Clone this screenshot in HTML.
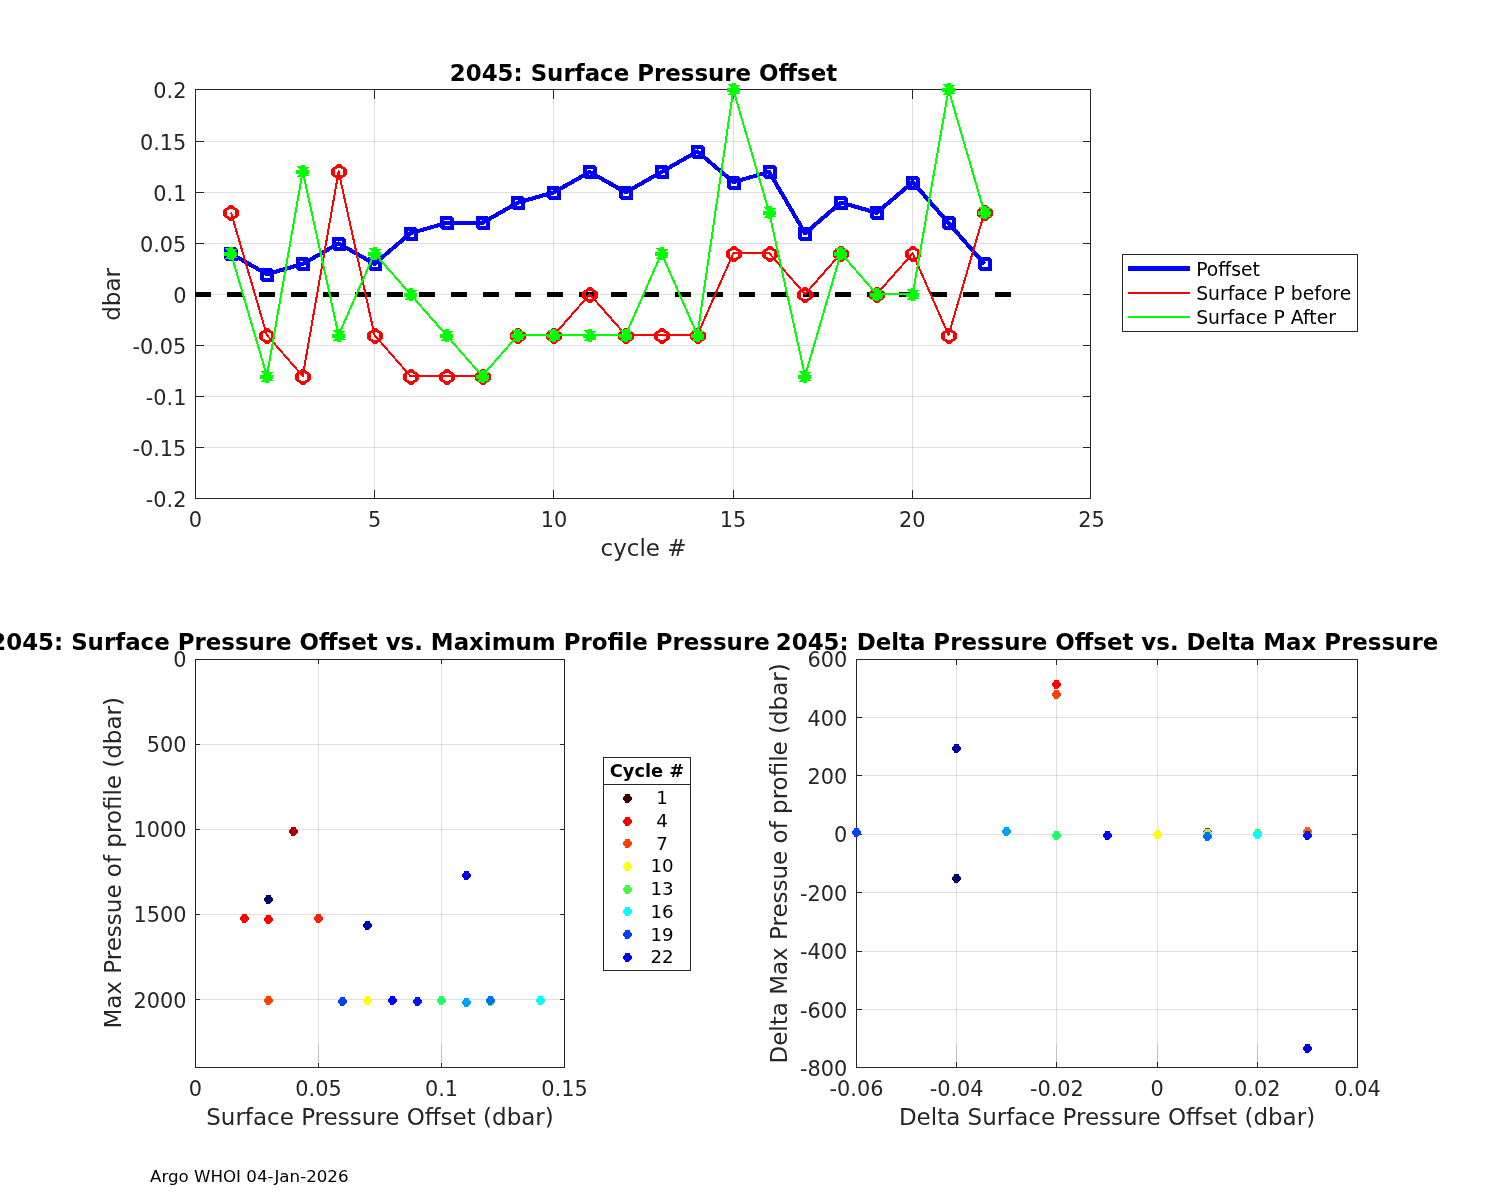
<!DOCTYPE html>
<html lang="en"><head><meta charset="utf-8"><title>2045: Surface Pressure Offset</title>
<style>html,body{margin:0;padding:0;background:#fff;}body{width:1500px;height:1200px;overflow:hidden;}svg{display:block;}text{font-family:"DejaVu Sans", "Liberation Sans", sans-serif;}</style>
</head><body>
<svg width="1500" height="1200" viewBox="0 0 1500 1200">
<rect x="0" y="0" width="1500" height="1200" fill="#ffffff"/>
<g shape-rendering="crispEdges">
<rect x="374" y="90" width="1" height="408" fill="#262626" fill-opacity="0.15"/>
<rect x="553" y="90" width="1" height="408" fill="#262626" fill-opacity="0.15"/>
<rect x="733" y="90" width="1" height="408" fill="#262626" fill-opacity="0.15"/>
<rect x="912" y="90" width="1" height="408" fill="#262626" fill-opacity="0.15"/>
<rect x="196" y="141" width="894" height="1" fill="#262626" fill-opacity="0.15"/>
<rect x="196" y="192" width="894" height="1" fill="#262626" fill-opacity="0.15"/>
<rect x="196" y="243" width="894" height="1" fill="#262626" fill-opacity="0.15"/>
<rect x="196" y="294" width="894" height="1" fill="#262626" fill-opacity="0.15"/>
<rect x="196" y="345" width="894" height="1" fill="#262626" fill-opacity="0.15"/>
<rect x="196" y="396" width="894" height="1" fill="#262626" fill-opacity="0.15"/>
<rect x="196" y="447" width="894" height="1" fill="#262626" fill-opacity="0.15"/>
<rect x="195" y="89" width="896" height="1" fill="#262626"/>
<rect x="195" y="498" width="896" height="1" fill="#262626"/>
<rect x="195" y="89" width="1" height="410" fill="#262626"/>
<rect x="1090" y="89" width="1" height="410" fill="#262626"/>
<rect x="374" y="490" width="1" height="8" fill="#262626"/>
<rect x="374" y="90" width="1" height="9" fill="#262626"/>
<rect x="553" y="490" width="1" height="8" fill="#262626"/>
<rect x="553" y="90" width="1" height="9" fill="#262626"/>
<rect x="733" y="490" width="1" height="8" fill="#262626"/>
<rect x="733" y="90" width="1" height="9" fill="#262626"/>
<rect x="912" y="490" width="1" height="8" fill="#262626"/>
<rect x="912" y="90" width="1" height="9" fill="#262626"/>
<rect x="196" y="141" width="8" height="1" fill="#262626"/>
<rect x="1083" y="141" width="7" height="1" fill="#262626"/>
<rect x="196" y="192" width="8" height="1" fill="#262626"/>
<rect x="1083" y="192" width="7" height="1" fill="#262626"/>
<rect x="196" y="243" width="8" height="1" fill="#262626"/>
<rect x="1083" y="243" width="7" height="1" fill="#262626"/>
<rect x="196" y="294" width="8" height="1" fill="#262626"/>
<rect x="1083" y="294" width="7" height="1" fill="#262626"/>
<rect x="196" y="345" width="8" height="1" fill="#262626"/>
<rect x="1083" y="345" width="7" height="1" fill="#262626"/>
<rect x="196" y="396" width="8" height="1" fill="#262626"/>
<rect x="1083" y="396" width="7" height="1" fill="#262626"/>
<rect x="196" y="447" width="8" height="1" fill="#262626"/>
<rect x="1083" y="447" width="7" height="1" fill="#262626"/>
</g>
<g shape-rendering="crispEdges" fill="none" stroke-linejoin="round">
<polyline points="230.97,253.7 266.85,274.15 302.73,263.93 338.61,243.48 374.49,263.93 410.37,233.25 446.25,223.03 482.13,223.03 518.01,202.58 553.89,192.35 589.77,171.9 625.65,192.35 661.53,171.9 697.41,151.45 733.29,182.12 769.17,171.9 805.05,233.25 840.93,202.58 876.81,212.8 912.69,182.12 948.57,223.03 984.45,263.93" stroke="#0000ff" stroke-width="4.1"/>
<path d="M224.9 246.95L235.4 246.95L238.05 249.6L238.05 260.1L237.1 261.05L226.6 261.05L223.95 258.4L223.95 247.9ZM227.9 250.9L234.1 250.9L234.1 257.1L227.9 257.1ZM260.9 267.95L271.4 267.95L274.05 270.6L274.05 281.1L273.1 282.05L262.6 282.05L259.95 279.4L259.95 268.9ZM263.9 271.9L270.1 271.9L270.1 278.1L263.9 278.1ZM296.9 256.95L307.4 256.95L310.05 259.6L310.05 270.1L309.1 271.05L298.6 271.05L295.95 268.4L295.95 257.9ZM299.9 260.9L306.1 260.9L306.1 267.1L299.9 267.1ZM332.9 236.95L343.4 236.95L346.05 239.6L346.05 250.1L345.1 251.05L334.6 251.05L331.95 248.4L331.95 237.9ZM335.9 240.9L342.1 240.9L342.1 247.1L335.9 247.1ZM368.9 256.95L379.4 256.95L382.05 259.6L382.05 270.1L381.1 271.05L370.6 271.05L367.95 268.4L367.95 257.9ZM371.9 260.9L378.1 260.9L378.1 267.1L371.9 267.1ZM404.9 226.95L415.4 226.95L418.05 229.6L418.05 240.1L417.1 241.05L406.6 241.05L403.95 238.4L403.95 227.9ZM407.9 230.9L414.1 230.9L414.1 237.1L407.9 237.1ZM440.9 215.95L451.4 215.95L454.05 218.6L454.05 229.1L453.1 230.05L442.6 230.05L439.95 227.4L439.95 216.9ZM443.9 219.9L450.1 219.9L450.1 226.1L443.9 226.1ZM476.9 215.95L487.4 215.95L490.05 218.6L490.05 229.1L489.1 230.05L478.6 230.05L475.95 227.4L475.95 216.9ZM479.9 219.9L486.1 219.9L486.1 226.1L479.9 226.1ZM511.9 195.95L522.4 195.95L525.05 198.6L525.05 209.1L524.1 210.05L513.6 210.05L510.95 207.4L510.95 196.9ZM514.9 199.9L521.1 199.9L521.1 206.1L514.9 206.1ZM547.9 185.95L558.4 185.95L561.05 188.6L561.05 199.1L560.1 200.05L549.6 200.05L546.95 197.4L546.95 186.9ZM550.9 189.9L557.1 189.9L557.1 196.1L550.9 196.1ZM583.9 164.95L594.4 164.95L597.05 167.6L597.05 178.1L596.1 179.05L585.6 179.05L582.95 176.4L582.95 165.9ZM586.9 168.9L593.1 168.9L593.1 175.1L586.9 175.1ZM619.9 185.95L630.4 185.95L633.05 188.6L633.05 199.1L632.1 200.05L621.6 200.05L618.95 197.4L618.95 186.9ZM622.9 189.9L629.1 189.9L629.1 196.1L622.9 196.1ZM655.9 164.95L666.4 164.95L669.05 167.6L669.05 178.1L668.1 179.05L657.6 179.05L654.95 176.4L654.95 165.9ZM658.9 168.9L665.1 168.9L665.1 175.1L658.9 175.1ZM691.9 144.95L702.4 144.95L705.05 147.6L705.05 158.1L704.1 159.05L693.6 159.05L690.95 156.4L690.95 145.9ZM694.9 148.9L701.1 148.9L701.1 155.1L694.9 155.1ZM727.9 175.95L738.4 175.95L741.05 178.6L741.05 189.1L740.1 190.05L729.6 190.05L726.95 187.4L726.95 176.9ZM730.9 179.9L737.1 179.9L737.1 186.1L730.9 186.1ZM763.9 164.95L774.4 164.95L777.05 167.6L777.05 178.1L776.1 179.05L765.6 179.05L762.95 176.4L762.95 165.9ZM766.9 168.9L773.1 168.9L773.1 175.1L766.9 175.1ZM798.9 226.95L809.4 226.95L812.05 229.6L812.05 240.1L811.1 241.05L800.6 241.05L797.95 238.4L797.95 227.9ZM801.9 230.9L808.1 230.9L808.1 237.1L801.9 237.1ZM834.9 195.95L845.4 195.95L848.05 198.6L848.05 209.1L847.1 210.05L836.6 210.05L833.95 207.4L833.95 196.9ZM837.9 199.9L844.1 199.9L844.1 206.1L837.9 206.1ZM870.9 205.95L881.4 205.95L884.05 208.6L884.05 219.1L883.1 220.05L872.6 220.05L869.95 217.4L869.95 206.9ZM873.9 209.9L880.1 209.9L880.1 216.1L873.9 216.1ZM906.9 175.95L917.4 175.95L920.05 178.6L920.05 189.1L919.1 190.05L908.6 190.05L905.95 187.4L905.95 176.9ZM909.9 179.9L916.1 179.9L916.1 186.1L909.9 186.1ZM942.9 215.95L953.4 215.95L956.05 218.6L956.05 229.1L955.1 230.05L944.6 230.05L941.95 227.4L941.95 216.9ZM945.9 219.9L952.1 219.9L952.1 226.1L945.9 226.1ZM978.9 256.95L989.4 256.95L992.05 259.6L992.05 270.1L991.1 271.05L980.6 271.05L977.95 268.4L977.95 257.9ZM981.9 260.9L988.1 260.9L988.1 267.1L981.9 267.1Z" fill="#0000ff" fill-rule="evenodd" stroke="none"/>
<line x1="195" y1="294.5" x2="1019.82" y2="294.5" stroke="#000000" stroke-width="5" stroke-dasharray="16 16"/>
<polyline points="230.97,212.4 266.85,335.1 302.73,376 338.61,171.5 374.49,335.1 410.37,376 446.25,376 482.13,376 518.01,335.1 553.89,335.1 589.77,294.2 625.65,335.1 661.53,335.1 697.41,335.1 733.29,253.3 769.17,253.3 805.05,294.2 840.93,253.3 876.81,294.2 912.69,253.3 948.57,335.1 984.45,212.4" stroke="#ff0000" stroke-width="2"/>
<path d="M232.6 204.85L235.3 207.7L238 208.8L239.15 211.4L239.15 214.6L238 217.2L235.3 218.3L232.6 221.15L229.4 221.15L226.7 218.3L224 217.2L222.85 214.6L222.85 211.4L224 208.8L226.7 207.7L229.4 204.85ZM232.5 208.95L234.2 210L235.05 211.1L235.05 214.9L234.2 216L232.5 217.05L229.5 217.05L227.8 216L226.95 214.9L226.95 211.1L227.8 210L229.5 208.95ZM268.6 327.85L271.3 330.7L274 331.8L275.15 334.4L275.15 337.6L274 340.2L271.3 341.3L268.6 344.15L265.4 344.15L262.7 341.3L260 340.2L258.85 337.6L258.85 334.4L260 331.8L262.7 330.7L265.4 327.85ZM268.5 331.95L270.2 333L271.05 334.1L271.05 337.9L270.2 339L268.5 340.05L265.5 340.05L263.8 339L262.95 337.9L262.95 334.1L263.8 333L265.5 331.95ZM304.6 368.85L307.3 371.7L310 372.8L311.15 375.4L311.15 378.6L310 381.2L307.3 382.3L304.6 385.15L301.4 385.15L298.7 382.3L296 381.2L294.85 378.6L294.85 375.4L296 372.8L298.7 371.7L301.4 368.85ZM304.5 372.95L306.2 374L307.05 375.1L307.05 378.9L306.2 380L304.5 381.05L301.5 381.05L299.8 380L298.95 378.9L298.95 375.1L299.8 374L301.5 372.95ZM340.6 163.85L343.3 166.7L346 167.8L347.15 170.4L347.15 173.6L346 176.2L343.3 177.3L340.6 180.15L337.4 180.15L334.7 177.3L332 176.2L330.85 173.6L330.85 170.4L332 167.8L334.7 166.7L337.4 163.85ZM340.5 167.95L342.2 169L343.05 170.1L343.05 173.9L342.2 175L340.5 176.05L337.5 176.05L335.8 175L334.95 173.9L334.95 170.1L335.8 169L337.5 167.95ZM376.6 327.85L379.3 330.7L382 331.8L383.15 334.4L383.15 337.6L382 340.2L379.3 341.3L376.6 344.15L373.4 344.15L370.7 341.3L368 340.2L366.85 337.6L366.85 334.4L368 331.8L370.7 330.7L373.4 327.85ZM376.5 331.95L378.2 333L379.05 334.1L379.05 337.9L378.2 339L376.5 340.05L373.5 340.05L371.8 339L370.95 337.9L370.95 334.1L371.8 333L373.5 331.95ZM412.6 368.85L415.3 371.7L418 372.8L419.15 375.4L419.15 378.6L418 381.2L415.3 382.3L412.6 385.15L409.4 385.15L406.7 382.3L404 381.2L402.85 378.6L402.85 375.4L404 372.8L406.7 371.7L409.4 368.85ZM412.5 372.95L414.2 374L415.05 375.1L415.05 378.9L414.2 380L412.5 381.05L409.5 381.05L407.8 380L406.95 378.9L406.95 375.1L407.8 374L409.5 372.95ZM448.6 368.85L451.3 371.7L454 372.8L455.15 375.4L455.15 378.6L454 381.2L451.3 382.3L448.6 385.15L445.4 385.15L442.7 382.3L440 381.2L438.85 378.6L438.85 375.4L440 372.8L442.7 371.7L445.4 368.85ZM448.5 372.95L450.2 374L451.05 375.1L451.05 378.9L450.2 380L448.5 381.05L445.5 381.05L443.8 380L442.95 378.9L442.95 375.1L443.8 374L445.5 372.95ZM484.6 368.85L487.3 371.7L490 372.8L491.15 375.4L491.15 378.6L490 381.2L487.3 382.3L484.6 385.15L481.4 385.15L478.7 382.3L476 381.2L474.85 378.6L474.85 375.4L476 372.8L478.7 371.7L481.4 368.85ZM484.5 372.95L486.2 374L487.05 375.1L487.05 378.9L486.2 380L484.5 381.05L481.5 381.05L479.8 380L478.95 378.9L478.95 375.1L479.8 374L481.5 372.95ZM519.6 327.85L522.3 330.7L525 331.8L526.15 334.4L526.15 337.6L525 340.2L522.3 341.3L519.6 344.15L516.4 344.15L513.7 341.3L511 340.2L509.85 337.6L509.85 334.4L511 331.8L513.7 330.7L516.4 327.85ZM519.5 331.95L521.2 333L522.05 334.1L522.05 337.9L521.2 339L519.5 340.05L516.5 340.05L514.8 339L513.95 337.9L513.95 334.1L514.8 333L516.5 331.95ZM555.6 327.85L558.3 330.7L561 331.8L562.15 334.4L562.15 337.6L561 340.2L558.3 341.3L555.6 344.15L552.4 344.15L549.7 341.3L547 340.2L545.85 337.6L545.85 334.4L547 331.8L549.7 330.7L552.4 327.85ZM555.5 331.95L557.2 333L558.05 334.1L558.05 337.9L557.2 339L555.5 340.05L552.5 340.05L550.8 339L549.95 337.9L549.95 334.1L550.8 333L552.5 331.95ZM591.6 286.85L594.3 289.7L597 290.8L598.15 293.4L598.15 296.6L597 299.2L594.3 300.3L591.6 303.15L588.4 303.15L585.7 300.3L583 299.2L581.85 296.6L581.85 293.4L583 290.8L585.7 289.7L588.4 286.85ZM591.5 290.95L593.2 292L594.05 293.1L594.05 296.9L593.2 298L591.5 299.05L588.5 299.05L586.8 298L585.95 296.9L585.95 293.1L586.8 292L588.5 290.95ZM627.6 327.85L630.3 330.7L633 331.8L634.15 334.4L634.15 337.6L633 340.2L630.3 341.3L627.6 344.15L624.4 344.15L621.7 341.3L619 340.2L617.85 337.6L617.85 334.4L619 331.8L621.7 330.7L624.4 327.85ZM627.5 331.95L629.2 333L630.05 334.1L630.05 337.9L629.2 339L627.5 340.05L624.5 340.05L622.8 339L621.95 337.9L621.95 334.1L622.8 333L624.5 331.95ZM663.6 327.85L666.3 330.7L669 331.8L670.15 334.4L670.15 337.6L669 340.2L666.3 341.3L663.6 344.15L660.4 344.15L657.7 341.3L655 340.2L653.85 337.6L653.85 334.4L655 331.8L657.7 330.7L660.4 327.85ZM663.5 331.95L665.2 333L666.05 334.1L666.05 337.9L665.2 339L663.5 340.05L660.5 340.05L658.8 339L657.95 337.9L657.95 334.1L658.8 333L660.5 331.95ZM699.6 327.85L702.3 330.7L705 331.8L706.15 334.4L706.15 337.6L705 340.2L702.3 341.3L699.6 344.15L696.4 344.15L693.7 341.3L691 340.2L689.85 337.6L689.85 334.4L691 331.8L693.7 330.7L696.4 327.85ZM699.5 331.95L701.2 333L702.05 334.1L702.05 337.9L701.2 339L699.5 340.05L696.5 340.05L694.8 339L693.95 337.9L693.95 334.1L694.8 333L696.5 331.95ZM735.6 245.85L738.3 248.7L741 249.8L742.15 252.4L742.15 255.6L741 258.2L738.3 259.3L735.6 262.15L732.4 262.15L729.7 259.3L727 258.2L725.85 255.6L725.85 252.4L727 249.8L729.7 248.7L732.4 245.85ZM735.5 249.95L737.2 251L738.05 252.1L738.05 255.9L737.2 257L735.5 258.05L732.5 258.05L730.8 257L729.95 255.9L729.95 252.1L730.8 251L732.5 249.95ZM771.6 245.85L774.3 248.7L777 249.8L778.15 252.4L778.15 255.6L777 258.2L774.3 259.3L771.6 262.15L768.4 262.15L765.7 259.3L763 258.2L761.85 255.6L761.85 252.4L763 249.8L765.7 248.7L768.4 245.85ZM771.5 249.95L773.2 251L774.05 252.1L774.05 255.9L773.2 257L771.5 258.05L768.5 258.05L766.8 257L765.95 255.9L765.95 252.1L766.8 251L768.5 249.95ZM806.6 286.85L809.3 289.7L812 290.8L813.15 293.4L813.15 296.6L812 299.2L809.3 300.3L806.6 303.15L803.4 303.15L800.7 300.3L798 299.2L796.85 296.6L796.85 293.4L798 290.8L800.7 289.7L803.4 286.85ZM806.5 290.95L808.2 292L809.05 293.1L809.05 296.9L808.2 298L806.5 299.05L803.5 299.05L801.8 298L800.95 296.9L800.95 293.1L801.8 292L803.5 290.95ZM842.6 245.85L845.3 248.7L848 249.8L849.15 252.4L849.15 255.6L848 258.2L845.3 259.3L842.6 262.15L839.4 262.15L836.7 259.3L834 258.2L832.85 255.6L832.85 252.4L834 249.8L836.7 248.7L839.4 245.85ZM842.5 249.95L844.2 251L845.05 252.1L845.05 255.9L844.2 257L842.5 258.05L839.5 258.05L837.8 257L836.95 255.9L836.95 252.1L837.8 251L839.5 249.95ZM878.6 286.85L881.3 289.7L884 290.8L885.15 293.4L885.15 296.6L884 299.2L881.3 300.3L878.6 303.15L875.4 303.15L872.7 300.3L870 299.2L868.85 296.6L868.85 293.4L870 290.8L872.7 289.7L875.4 286.85ZM878.5 290.95L880.2 292L881.05 293.1L881.05 296.9L880.2 298L878.5 299.05L875.5 299.05L873.8 298L872.95 296.9L872.95 293.1L873.8 292L875.5 290.95ZM914.6 245.85L917.3 248.7L920 249.8L921.15 252.4L921.15 255.6L920 258.2L917.3 259.3L914.6 262.15L911.4 262.15L908.7 259.3L906 258.2L904.85 255.6L904.85 252.4L906 249.8L908.7 248.7L911.4 245.85ZM914.5 249.95L916.2 251L917.05 252.1L917.05 255.9L916.2 257L914.5 258.05L911.5 258.05L909.8 257L908.95 255.9L908.95 252.1L909.8 251L911.5 249.95ZM950.6 327.85L953.3 330.7L956 331.8L957.15 334.4L957.15 337.6L956 340.2L953.3 341.3L950.6 344.15L947.4 344.15L944.7 341.3L942 340.2L940.85 337.6L940.85 334.4L942 331.8L944.7 330.7L947.4 327.85ZM950.5 331.95L952.2 333L953.05 334.1L953.05 337.9L952.2 339L950.5 340.05L947.5 340.05L945.8 339L944.95 337.9L944.95 334.1L945.8 333L947.5 331.95ZM986.6 204.85L989.3 207.7L992 208.8L993.15 211.4L993.15 214.6L992 217.2L989.3 218.3L986.6 221.15L983.4 221.15L980.7 218.3L978 217.2L976.85 214.6L976.85 211.4L978 208.8L980.7 207.7L983.4 204.85ZM986.5 208.95L988.2 210L989.05 211.1L989.05 214.9L988.2 216L986.5 217.05L983.5 217.05L981.8 216L980.95 214.9L980.95 211.1L981.8 210L983.5 208.95Z" fill="#ff0000" fill-rule="evenodd" stroke="none"/>
<polyline points="230.97,253.3 266.85,376 302.73,171.5 338.61,335.1 374.49,253.3 410.37,294.2 446.25,335.1 482.13,376 518.01,335.1 553.89,335.1 589.77,335.1 625.65,335.1 661.53,253.3 697.41,335.1 733.29,89.7 769.17,212.4 805.05,376 840.93,253.3 876.81,294.2 912.69,294.2 948.57,89.7 984.45,212.4" stroke="#00ff00" stroke-width="2"/>
<path d="M224.1 252.05L236.9 252.05L236.9 255.95L224.1 255.95ZM229.05 247.05L232.95 247.05L232.95 259.95L229.05 259.95ZM224.9 248.1L228.6 247.95L230.5 254L228.1 252.1ZM234.8 252.1L230.5 254L232.4 248.7L237 249.2ZM224.9 258.5L227 255.9L230.5 254L228.6 258.9ZM232.4 258.35L230.5 254L235.5 255.9L237 257.6ZM260.1 375.05L272.9 375.05L272.9 378.95L260.1 378.95ZM265.05 370.05L268.95 370.05L268.95 382.95L265.05 382.95ZM260.9 371.1L264.6 370.95L266.5 377L264.1 375.1ZM270.8 375.1L266.5 377L268.4 371.7L273 372.2ZM260.9 381.5L263 378.9L266.5 377L264.6 381.9ZM268.4 381.35L266.5 377L271.5 378.9L273 380.6ZM296.1 170.05L308.9 170.05L308.9 173.95L296.1 173.95ZM301.05 165.05L304.95 165.05L304.95 177.95L301.05 177.95ZM296.9 166.1L300.6 165.95L302.5 172L300.1 170.1ZM306.8 170.1L302.5 172L304.4 166.7L309 167.2ZM296.9 176.5L299 173.9L302.5 172L300.6 176.9ZM304.4 176.35L302.5 172L307.5 173.9L309 175.6ZM332.1 334.05L344.9 334.05L344.9 337.95L332.1 337.95ZM337.05 329.05L340.95 329.05L340.95 341.95L337.05 341.95ZM332.9 330.1L336.6 329.95L338.5 336L336.1 334.1ZM342.8 334.1L338.5 336L340.4 330.7L345 331.2ZM332.9 340.5L335 337.9L338.5 336L336.6 340.9ZM340.4 340.35L338.5 336L343.5 337.9L345 339.6ZM368.1 252.05L380.9 252.05L380.9 255.95L368.1 255.95ZM373.05 247.05L376.95 247.05L376.95 259.95L373.05 259.95ZM368.9 248.1L372.6 247.95L374.5 254L372.1 252.1ZM378.8 252.1L374.5 254L376.4 248.7L381 249.2ZM368.9 258.5L371 255.9L374.5 254L372.6 258.9ZM376.4 258.35L374.5 254L379.5 255.9L381 257.6ZM404.1 293.05L416.9 293.05L416.9 296.95L404.1 296.95ZM409.05 288.05L412.95 288.05L412.95 300.95L409.05 300.95ZM404.9 289.1L408.6 288.95L410.5 295L408.1 293.1ZM414.8 293.1L410.5 295L412.4 289.7L417 290.2ZM404.9 299.5L407 296.9L410.5 295L408.6 299.9ZM412.4 299.35L410.5 295L415.5 296.9L417 298.6ZM440.1 334.05L452.9 334.05L452.9 337.95L440.1 337.95ZM445.05 329.05L448.95 329.05L448.95 341.95L445.05 341.95ZM440.9 330.1L444.6 329.95L446.5 336L444.1 334.1ZM450.8 334.1L446.5 336L448.4 330.7L453 331.2ZM440.9 340.5L443 337.9L446.5 336L444.6 340.9ZM448.4 340.35L446.5 336L451.5 337.9L453 339.6ZM476.1 375.05L488.9 375.05L488.9 378.95L476.1 378.95ZM481.05 370.05L484.95 370.05L484.95 382.95L481.05 382.95ZM476.9 371.1L480.6 370.95L482.5 377L480.1 375.1ZM486.8 375.1L482.5 377L484.4 371.7L489 372.2ZM476.9 381.5L479 378.9L482.5 377L480.6 381.9ZM484.4 381.35L482.5 377L487.5 378.9L489 380.6ZM511.1 334.05L523.9 334.05L523.9 337.95L511.1 337.95ZM516.05 329.05L519.95 329.05L519.95 341.95L516.05 341.95ZM511.9 330.1L515.6 329.95L517.5 336L515.1 334.1ZM521.8 334.1L517.5 336L519.4 330.7L524 331.2ZM511.9 340.5L514 337.9L517.5 336L515.6 340.9ZM519.4 340.35L517.5 336L522.5 337.9L524 339.6ZM547.1 334.05L559.9 334.05L559.9 337.95L547.1 337.95ZM552.05 329.05L555.95 329.05L555.95 341.95L552.05 341.95ZM547.9 330.1L551.6 329.95L553.5 336L551.1 334.1ZM557.8 334.1L553.5 336L555.4 330.7L560 331.2ZM547.9 340.5L550 337.9L553.5 336L551.6 340.9ZM555.4 340.35L553.5 336L558.5 337.9L560 339.6ZM583.1 334.05L595.9 334.05L595.9 337.95L583.1 337.95ZM588.05 329.05L591.95 329.05L591.95 341.95L588.05 341.95ZM583.9 330.1L587.6 329.95L589.5 336L587.1 334.1ZM593.8 334.1L589.5 336L591.4 330.7L596 331.2ZM583.9 340.5L586 337.9L589.5 336L587.6 340.9ZM591.4 340.35L589.5 336L594.5 337.9L596 339.6ZM619.1 334.05L631.9 334.05L631.9 337.95L619.1 337.95ZM624.05 329.05L627.95 329.05L627.95 341.95L624.05 341.95ZM619.9 330.1L623.6 329.95L625.5 336L623.1 334.1ZM629.8 334.1L625.5 336L627.4 330.7L632 331.2ZM619.9 340.5L622 337.9L625.5 336L623.6 340.9ZM627.4 340.35L625.5 336L630.5 337.9L632 339.6ZM655.1 252.05L667.9 252.05L667.9 255.95L655.1 255.95ZM660.05 247.05L663.95 247.05L663.95 259.95L660.05 259.95ZM655.9 248.1L659.6 247.95L661.5 254L659.1 252.1ZM665.8 252.1L661.5 254L663.4 248.7L668 249.2ZM655.9 258.5L658 255.9L661.5 254L659.6 258.9ZM663.4 258.35L661.5 254L666.5 255.9L668 257.6ZM691.1 334.05L703.9 334.05L703.9 337.95L691.1 337.95ZM696.05 329.05L699.95 329.05L699.95 341.95L696.05 341.95ZM691.9 330.1L695.6 329.95L697.5 336L695.1 334.1ZM701.8 334.1L697.5 336L699.4 330.7L704 331.2ZM691.9 340.5L694 337.9L697.5 336L695.6 340.9ZM699.4 340.35L697.5 336L702.5 337.9L704 339.6ZM727.1 88.05L739.9 88.05L739.9 91.95L727.1 91.95ZM732.05 83.05L735.95 83.05L735.95 95.95L732.05 95.95ZM727.9 84.1L731.6 83.95L733.5 90L731.1 88.1ZM737.8 88.1L733.5 90L735.4 84.7L740 85.2ZM727.9 94.5L730 91.9L733.5 90L731.6 94.9ZM735.4 94.35L733.5 90L738.5 91.9L740 93.6ZM763.1 211.05L775.9 211.05L775.9 214.95L763.1 214.95ZM768.05 206.05L771.95 206.05L771.95 218.95L768.05 218.95ZM763.9 207.1L767.6 206.95L769.5 213L767.1 211.1ZM773.8 211.1L769.5 213L771.4 207.7L776 208.2ZM763.9 217.5L766 214.9L769.5 213L767.6 217.9ZM771.4 217.35L769.5 213L774.5 214.9L776 216.6ZM798.1 375.05L810.9 375.05L810.9 378.95L798.1 378.95ZM803.05 370.05L806.95 370.05L806.95 382.95L803.05 382.95ZM798.9 371.1L802.6 370.95L804.5 377L802.1 375.1ZM808.8 375.1L804.5 377L806.4 371.7L811 372.2ZM798.9 381.5L801 378.9L804.5 377L802.6 381.9ZM806.4 381.35L804.5 377L809.5 378.9L811 380.6ZM834.1 252.05L846.9 252.05L846.9 255.95L834.1 255.95ZM839.05 247.05L842.95 247.05L842.95 259.95L839.05 259.95ZM834.9 248.1L838.6 247.95L840.5 254L838.1 252.1ZM844.8 252.1L840.5 254L842.4 248.7L847 249.2ZM834.9 258.5L837 255.9L840.5 254L838.6 258.9ZM842.4 258.35L840.5 254L845.5 255.9L847 257.6ZM870.1 293.05L882.9 293.05L882.9 296.95L870.1 296.95ZM875.05 288.05L878.95 288.05L878.95 300.95L875.05 300.95ZM870.9 289.1L874.6 288.95L876.5 295L874.1 293.1ZM880.8 293.1L876.5 295L878.4 289.7L883 290.2ZM870.9 299.5L873 296.9L876.5 295L874.6 299.9ZM878.4 299.35L876.5 295L881.5 296.9L883 298.6ZM906.1 293.05L918.9 293.05L918.9 296.95L906.1 296.95ZM911.05 288.05L914.95 288.05L914.95 300.95L911.05 300.95ZM906.9 289.1L910.6 288.95L912.5 295L910.1 293.1ZM916.8 293.1L912.5 295L914.4 289.7L919 290.2ZM906.9 299.5L909 296.9L912.5 295L910.6 299.9ZM914.4 299.35L912.5 295L917.5 296.9L919 298.6ZM942.1 88.05L954.9 88.05L954.9 91.95L942.1 91.95ZM947.05 83.05L950.95 83.05L950.95 95.95L947.05 95.95ZM942.9 84.1L946.6 83.95L948.5 90L946.1 88.1ZM952.8 88.1L948.5 90L950.4 84.7L955 85.2ZM942.9 94.5L945 91.9L948.5 90L946.6 94.9ZM950.4 94.35L948.5 90L953.5 91.9L955 93.6ZM978.1 211.05L990.9 211.05L990.9 214.95L978.1 214.95ZM983.05 206.05L986.95 206.05L986.95 218.95L983.05 218.95ZM978.9 207.1L982.6 206.95L984.5 213L982.1 211.1ZM988.8 211.1L984.5 213L986.4 207.7L991 208.2ZM978.9 217.5L981 214.9L984.5 213L982.6 217.9ZM986.4 217.35L984.5 213L989.5 214.9L991 216.6Z" fill="#00ff00" stroke="none"/>
</g>
<text x="195.5" y="527" font-size="20.83" text-anchor="middle" font-weight="normal" fill="#262626">0</text>
<text x="374.7" y="527" font-size="20.83" text-anchor="middle" font-weight="normal" fill="#262626">5</text>
<text x="553.9" y="527" font-size="20.83" text-anchor="middle" font-weight="normal" fill="#262626">10</text>
<text x="733.1" y="527" font-size="20.83" text-anchor="middle" font-weight="normal" fill="#262626">15</text>
<text x="912.3" y="527" font-size="20.83" text-anchor="middle" font-weight="normal" fill="#262626">20</text>
<text x="1091.5" y="527" font-size="20.83" text-anchor="middle" font-weight="normal" fill="#262626">25</text>
<text x="186.4" y="98.4" font-size="20.83" text-anchor="end" font-weight="normal" fill="#262626">0.2</text>
<text x="186.4" y="149.53" font-size="20.83" text-anchor="end" font-weight="normal" fill="#262626">0.15</text>
<text x="186.4" y="200.65" font-size="20.83" text-anchor="end" font-weight="normal" fill="#262626">0.1</text>
<text x="186.4" y="251.78" font-size="20.83" text-anchor="end" font-weight="normal" fill="#262626">0.05</text>
<text x="186.4" y="302.9" font-size="20.83" text-anchor="end" font-weight="normal" fill="#262626">0</text>
<text x="186.4" y="354.02" font-size="20.83" text-anchor="end" font-weight="normal" fill="#262626">-0.05</text>
<text x="186.4" y="405.15" font-size="20.83" text-anchor="end" font-weight="normal" fill="#262626">-0.1</text>
<text x="186.4" y="456.27" font-size="20.83" text-anchor="end" font-weight="normal" fill="#262626">-0.15</text>
<text x="186.4" y="507.4" font-size="20.83" text-anchor="end" font-weight="normal" fill="#262626">-0.2</text>
<text x="643.5" y="556" font-size="23" text-anchor="middle" font-weight="normal" fill="#262626">cycle #</text>
<text transform="translate(120,294.4) rotate(-90)" font-size="23" text-anchor="middle" fill="#262626">dbar</text>
<text x="643.5" y="81" font-size="22.9" text-anchor="middle" font-weight="bold" fill="#000000">2045: Surface Pressure Offset</text>
<g shape-rendering="crispEdges">
<rect x="1122.5" y="254.5" width="235" height="77" fill="#ffffff" stroke="#262626" stroke-width="1"/>
<rect x="1128" y="266" width="62" height="5" fill="#0000ff"/>
<rect x="1128" y="292" width="62" height="2" fill="#ff0000"/>
<rect x="1128" y="316" width="62" height="2" fill="#00ff00"/>
</g>
<text x="1196.2" y="275.6" font-size="18.75" text-anchor="start" font-weight="normal" fill="#000000">Poffset</text>
<text x="1196.2" y="299.6" font-size="18.75" text-anchor="start" font-weight="normal" fill="#000000">Surface P before</text>
<text x="1196.2" y="323.6" font-size="18.75" text-anchor="start" font-weight="normal" fill="#000000">Surface P After</text>
<g shape-rendering="crispEdges">
<rect x="318" y="660" width="1" height="407" fill="#262626" fill-opacity="0.15"/>
<rect x="441" y="660" width="1" height="407" fill="#262626" fill-opacity="0.15"/>
<rect x="196" y="744" width="368" height="1" fill="#262626" fill-opacity="0.15"/>
<rect x="196" y="829" width="368" height="1" fill="#262626" fill-opacity="0.15"/>
<rect x="196" y="914" width="368" height="1" fill="#262626" fill-opacity="0.15"/>
<rect x="196" y="999" width="368" height="1" fill="#262626" fill-opacity="0.15"/>
<rect x="318" y="1044" width="1" height="18" fill="#262626" fill-opacity="0.15"/>
<rect x="441" y="1044" width="1" height="18" fill="#262626" fill-opacity="0.15"/>
<rect x="195" y="659" width="370" height="1" fill="#262626"/>
<rect x="195" y="1067" width="370" height="1" fill="#262626"/>
<rect x="195" y="659" width="1" height="409" fill="#262626"/>
<rect x="564" y="659" width="1" height="409" fill="#262626"/>
<rect x="318" y="1063" width="1" height="4" fill="#262626"/>
<rect x="318" y="660" width="1" height="4" fill="#262626"/>
<rect x="441" y="1063" width="1" height="4" fill="#262626"/>
<rect x="441" y="660" width="1" height="4" fill="#262626"/>
<rect x="196" y="744" width="4" height="1" fill="#262626"/>
<rect x="560" y="744" width="4" height="1" fill="#262626"/>
<rect x="196" y="829" width="4" height="1" fill="#262626"/>
<rect x="560" y="829" width="4" height="1" fill="#262626"/>
<rect x="196" y="914" width="4" height="1" fill="#262626"/>
<rect x="560" y="914" width="4" height="1" fill="#262626"/>
<rect x="196" y="999" width="4" height="1" fill="#262626"/>
<rect x="560" y="999" width="4" height="1" fill="#262626"/>
</g>
<text x="195.5" y="1095.5" font-size="20.83" text-anchor="middle" font-weight="normal" fill="#262626">0</text>
<text x="318.5" y="1095.5" font-size="20.83" text-anchor="middle" font-weight="normal" fill="#262626">0.05</text>
<text x="441.5" y="1095.5" font-size="20.83" text-anchor="middle" font-weight="normal" fill="#262626">0.1</text>
<text x="564.5" y="1095.5" font-size="20.83" text-anchor="middle" font-weight="normal" fill="#262626">0.15</text>
<text x="186.4" y="667.18" font-size="20.83" text-anchor="end" font-weight="normal" fill="#262626">0</text>
<text x="186.4" y="752.28" font-size="20.83" text-anchor="end" font-weight="normal" fill="#262626">500</text>
<text x="186.4" y="837.39" font-size="20.83" text-anchor="end" font-weight="normal" fill="#262626">1000</text>
<text x="186.4" y="922.49" font-size="20.83" text-anchor="end" font-weight="normal" fill="#262626">1500</text>
<text x="186.4" y="1007.6" font-size="20.83" text-anchor="end" font-weight="normal" fill="#262626">2000</text>
<text x="380" y="1125" font-size="23" text-anchor="middle" font-weight="normal" fill="#262626">Surface Pressure Offset (dbar)</text>
<text transform="translate(121,862.8) rotate(-90)" font-size="23" text-anchor="middle" fill="#262626">Max Pressue of profile (dbar)</text>
<text x="380" y="650" font-size="22.9" text-anchor="middle" font-weight="bold" fill="#000000">2045: Surface Pressure Offset vs. Maximum Profile Pressure</text>
<g shape-rendering="crispEdges">
<polygon points="291.9,826.95 295.1,826.95 298.05,830.9 298.05,832.1 295.1,836.05 291.9,836.05 288.95,832.1 288.95,830.9" fill="#aa0000"/>
<polygon points="242.9,913.95 246.1,913.95 249.05,917.9 249.05,919.1 246.1,923.05 242.9,923.05 239.95,919.1 239.95,917.9" fill="#ff0000"/>
<polygon points="266.9,914.95 270.1,914.95 273.05,918.9 273.05,920.1 270.1,924.05 266.9,924.05 263.95,920.1 263.95,918.9" fill="#ff0000"/>
<polygon points="316.9,913.95 320.1,913.95 323.05,917.9 323.05,919.1 320.1,923.05 316.9,923.05 313.95,919.1 313.95,917.9" fill="#ff2000"/>
<polygon points="266.9,995.95 270.1,995.95 273.05,999.9 273.05,1001.1 270.1,1005.05 266.9,1005.05 263.95,1001.1 263.95,999.9" fill="#ff4000"/>
<polygon points="340.9,996.95 344.1,996.95 347.05,1000.9 347.05,1002.1 344.1,1006.05 340.9,1006.05 337.95,1002.1 337.95,1000.9" fill="#ff6000"/>
<polygon points="365.9,995.95 369.1,995.95 372.05,999.9 372.05,1001.1 369.1,1005.05 365.9,1005.05 362.95,1001.1 362.95,999.9" fill="#ffc000"/>
<polygon points="365.9,995.95 369.1,995.95 372.05,999.9 372.05,1001.1 369.1,1005.05 365.9,1005.05 362.95,1001.1 362.95,999.9" fill="#ffff00"/>
<polygon points="415.9,996.95 419.1,996.95 422.05,1000.9 422.05,1002.1 419.1,1006.05 415.9,1006.05 412.95,1002.1 412.95,1000.9" fill="#c0ff40"/>
<polygon points="439.9,995.95 443.1,995.95 446.05,999.9 446.05,1001.1 443.1,1005.05 439.9,1005.05 436.95,1001.1 436.95,999.9" fill="#80ff80"/>
<polygon points="488.9,995.95 492.1,995.95 495.05,999.9 495.05,1001.1 492.1,1005.05 488.9,1005.05 485.95,1001.1 485.95,999.9" fill="#60ffa0"/>
<polygon points="439.9,995.95 443.1,995.95 446.05,999.9 446.05,1001.1 443.1,1005.05 439.9,1005.05 436.95,1001.1 436.95,999.9" fill="#20ff60"/>
<polygon points="488.9,996.95 492.1,996.95 495.05,1000.9 495.05,1002.1 492.1,1006.05 488.9,1006.05 485.95,1002.1 485.95,1000.9" fill="#40ff40"/>
<polygon points="538.9,995.95 542.1,995.95 545.05,999.9 545.05,1001.1 542.1,1005.05 538.9,1005.05 535.95,1001.1 535.95,999.9" fill="#00ffff"/>
<polygon points="464.9,997.95 468.1,997.95 471.05,1001.9 471.05,1003.1 468.1,1007.05 464.9,1007.05 461.95,1003.1 461.95,1001.9" fill="#00a0ff"/>
<polygon points="488.9,995.95 492.1,995.95 495.05,999.9 495.05,1001.1 492.1,1005.05 488.9,1005.05 485.95,1001.1 485.95,999.9" fill="#0070ff"/>
<polygon points="340.9,996.95 344.1,996.95 347.05,1000.9 347.05,1002.1 344.1,1006.05 340.9,1006.05 337.95,1002.1 337.95,1000.9" fill="#0040ff"/>
<polygon points="415.9,996.95 419.1,996.95 422.05,1000.9 422.05,1002.1 419.1,1006.05 415.9,1006.05 412.95,1002.1 412.95,1000.9" fill="#0010ff"/>
<polygon points="390.9,995.95 394.1,995.95 397.05,999.9 397.05,1001.1 394.1,1005.05 390.9,1005.05 387.95,1001.1 387.95,999.9" fill="#0000ff"/>
<polygon points="464.9,870.95 468.1,870.95 471.05,874.9 471.05,876.1 468.1,880.05 464.9,880.05 461.95,876.1 461.95,874.9" fill="#0000e0"/>
<polygon points="365.9,920.95 369.1,920.95 372.05,924.9 372.05,926.1 369.1,930.05 365.9,930.05 362.95,926.1 362.95,924.9" fill="#0000aa"/>
<polygon points="266.9,894.95 270.1,894.95 273.05,898.9 273.05,900.1 270.1,904.05 266.9,904.05 263.95,900.1 263.95,898.9" fill="#000066"/>
</g>
<g shape-rendering="crispEdges">
<rect x="603.5" y="757.5" width="87" height="213" fill="#ffffff" stroke="#262626" stroke-width="1"/>
<rect x="604" y="784" width="87" height="1" fill="#262626"/>
</g>
<text x="647" y="777.3" font-size="17.8" text-anchor="middle" font-weight="bold" fill="#000000">Cycle #</text>
<g shape-rendering="crispEdges">
<polygon points="625.9,793.95 629.1,793.95 632.05,797.9 632.05,799.1 629.1,803.05 625.9,803.05 622.95,799.1 622.95,797.9" fill="#400000"/>
</g>
<text x="662" y="804.2" font-size="18.2" text-anchor="middle" font-weight="normal" fill="#000000">1</text>
<g shape-rendering="crispEdges">
<polygon points="625.9,816.95 629.1,816.95 632.05,820.9 632.05,822.1 629.1,826.05 625.9,826.05 622.95,822.1 622.95,820.9" fill="#ff0000"/>
</g>
<text x="662" y="826.93" font-size="18.2" text-anchor="middle" font-weight="normal" fill="#000000">4</text>
<g shape-rendering="crispEdges">
<polygon points="625.9,838.95 629.1,838.95 632.05,842.9 632.05,844.1 629.1,848.05 625.9,848.05 622.95,844.1 622.95,842.9" fill="#ff4000"/>
</g>
<text x="662" y="849.66" font-size="18.2" text-anchor="middle" font-weight="normal" fill="#000000">7</text>
<g shape-rendering="crispEdges">
<polygon points="625.9,861.95 629.1,861.95 632.05,865.9 632.05,867.1 629.1,871.05 625.9,871.05 622.95,867.1 622.95,865.9" fill="#ffff00"/>
</g>
<text x="662" y="872.39" font-size="18.2" text-anchor="middle" font-weight="normal" fill="#000000">10</text>
<g shape-rendering="crispEdges">
<polygon points="625.9,884.95 629.1,884.95 632.05,888.9 632.05,890.1 629.1,894.05 625.9,894.05 622.95,890.1 622.95,888.9" fill="#40ff40"/>
</g>
<text x="662" y="895.12" font-size="18.2" text-anchor="middle" font-weight="normal" fill="#000000">13</text>
<g shape-rendering="crispEdges">
<polygon points="625.9,906.95 629.1,906.95 632.05,910.9 632.05,912.1 629.1,916.05 625.9,916.05 622.95,912.1 622.95,910.9" fill="#00ffff"/>
</g>
<text x="662" y="917.85" font-size="18.2" text-anchor="middle" font-weight="normal" fill="#000000">16</text>
<g shape-rendering="crispEdges">
<polygon points="625.9,929.95 629.1,929.95 632.05,933.9 632.05,935.1 629.1,939.05 625.9,939.05 622.95,935.1 622.95,933.9" fill="#0040ff"/>
</g>
<text x="662" y="940.58" font-size="18.2" text-anchor="middle" font-weight="normal" fill="#000000">19</text>
<g shape-rendering="crispEdges">
<polygon points="625.9,952.95 629.1,952.95 632.05,956.9 632.05,958.1 629.1,962.05 625.9,962.05 622.95,958.1 622.95,956.9" fill="#0000ff"/>
</g>
<text x="662" y="963.31" font-size="18.2" text-anchor="middle" font-weight="normal" fill="#000000">22</text>
<g shape-rendering="crispEdges">
<rect x="956" y="660" width="1" height="407" fill="#262626" fill-opacity="0.15"/>
<rect x="1056" y="660" width="1" height="407" fill="#262626" fill-opacity="0.15"/>
<rect x="1157" y="660" width="1" height="407" fill="#262626" fill-opacity="0.15"/>
<rect x="1257" y="660" width="1" height="407" fill="#262626" fill-opacity="0.15"/>
<rect x="857" y="717" width="500" height="1" fill="#262626" fill-opacity="0.15"/>
<rect x="857" y="775" width="500" height="1" fill="#262626" fill-opacity="0.15"/>
<rect x="857" y="834" width="500" height="1" fill="#262626" fill-opacity="0.15"/>
<rect x="857" y="892" width="500" height="1" fill="#262626" fill-opacity="0.15"/>
<rect x="857" y="951" width="500" height="1" fill="#262626" fill-opacity="0.15"/>
<rect x="857" y="1009" width="500" height="1" fill="#262626" fill-opacity="0.15"/>
<rect x="956" y="1044" width="1" height="18" fill="#262626" fill-opacity="0.15"/>
<rect x="1056" y="1044" width="1" height="18" fill="#262626" fill-opacity="0.15"/>
<rect x="1157" y="1044" width="1" height="18" fill="#262626" fill-opacity="0.15"/>
<rect x="1257" y="1044" width="1" height="18" fill="#262626" fill-opacity="0.15"/>
<rect x="856" y="659" width="502" height="1" fill="#262626"/>
<rect x="856" y="1067" width="502" height="1" fill="#262626"/>
<rect x="856" y="659" width="1" height="409" fill="#262626"/>
<rect x="1357" y="659" width="1" height="409" fill="#262626"/>
<rect x="956" y="1062" width="1" height="5" fill="#262626"/>
<rect x="956" y="660" width="1" height="5" fill="#262626"/>
<rect x="1056" y="1062" width="1" height="5" fill="#262626"/>
<rect x="1056" y="660" width="1" height="5" fill="#262626"/>
<rect x="1157" y="1062" width="1" height="5" fill="#262626"/>
<rect x="1157" y="660" width="1" height="5" fill="#262626"/>
<rect x="1257" y="1062" width="1" height="5" fill="#262626"/>
<rect x="1257" y="660" width="1" height="5" fill="#262626"/>
<rect x="857" y="717" width="5" height="1" fill="#262626"/>
<rect x="1352" y="717" width="5" height="1" fill="#262626"/>
<rect x="857" y="775" width="5" height="1" fill="#262626"/>
<rect x="1352" y="775" width="5" height="1" fill="#262626"/>
<rect x="857" y="834" width="5" height="1" fill="#262626"/>
<rect x="1352" y="834" width="5" height="1" fill="#262626"/>
<rect x="857" y="892" width="5" height="1" fill="#262626"/>
<rect x="1352" y="892" width="5" height="1" fill="#262626"/>
<rect x="857" y="951" width="5" height="1" fill="#262626"/>
<rect x="1352" y="951" width="5" height="1" fill="#262626"/>
<rect x="857" y="1009" width="5" height="1" fill="#262626"/>
<rect x="1352" y="1009" width="5" height="1" fill="#262626"/>
</g>
<text x="856.5" y="1095.5" font-size="20.83" text-anchor="middle" font-weight="normal" fill="#262626">-0.06</text>
<text x="956.7" y="1095.5" font-size="20.83" text-anchor="middle" font-weight="normal" fill="#262626">-0.04</text>
<text x="1056.9" y="1095.5" font-size="20.83" text-anchor="middle" font-weight="normal" fill="#262626">-0.02</text>
<text x="1157.1" y="1095.5" font-size="20.83" text-anchor="middle" font-weight="normal" fill="#262626">0</text>
<text x="1257.3" y="1095.5" font-size="20.83" text-anchor="middle" font-weight="normal" fill="#262626">0.02</text>
<text x="1357.5" y="1095.5" font-size="20.83" text-anchor="middle" font-weight="normal" fill="#262626">0.04</text>
<text x="847.3" y="667.38" font-size="20.83" text-anchor="end" font-weight="normal" fill="#262626">600</text>
<text x="847.3" y="725.74" font-size="20.83" text-anchor="end" font-weight="normal" fill="#262626">400</text>
<text x="847.3" y="784.09" font-size="20.83" text-anchor="end" font-weight="normal" fill="#262626">200</text>
<text x="847.3" y="842.45" font-size="20.83" text-anchor="end" font-weight="normal" fill="#262626">0</text>
<text x="847.3" y="900.81" font-size="20.83" text-anchor="end" font-weight="normal" fill="#262626">-200</text>
<text x="847.3" y="959.17" font-size="20.83" text-anchor="end" font-weight="normal" fill="#262626">-400</text>
<text x="847.3" y="1017.52" font-size="20.83" text-anchor="end" font-weight="normal" fill="#262626">-600</text>
<text x="847.3" y="1075.88" font-size="20.83" text-anchor="end" font-weight="normal" fill="#262626">-800</text>
<text x="1107" y="1125" font-size="23" text-anchor="middle" font-weight="normal" fill="#262626">Delta Surface Pressure Offset (dbar)</text>
<text transform="translate(787,863.4) rotate(-90)" font-size="23" text-anchor="middle" fill="#262626">Delta Max Pressue of profile (dbar)</text>
<text x="1107" y="650" font-size="22.9" text-anchor="middle" font-weight="bold" fill="#000000">2045: Delta Pressure Offset vs. Delta Max Pressure</text>
<g shape-rendering="crispEdges">
<polygon points="1054.9,679.95 1058.1,679.95 1061.05,683.9 1061.05,685.1 1058.1,689.05 1054.9,689.05 1051.95,685.1 1051.95,683.9" fill="#ff0000"/>
<polygon points="1205.9,827.95 1209.1,827.95 1212.05,831.9 1212.05,833.1 1209.1,837.05 1205.9,837.05 1202.95,833.1 1202.95,831.9" fill="#ff0000"/>
<polygon points="1255.9,829.95 1259.1,829.95 1262.05,833.9 1262.05,835.1 1259.1,839.05 1255.9,839.05 1252.95,835.1 1252.95,833.9" fill="#ff2000"/>
<polygon points="1054.9,689.95 1058.1,689.95 1061.05,693.9 1061.05,695.1 1058.1,699.05 1054.9,699.05 1051.95,695.1 1051.95,693.9" fill="#ff4000"/>
<polygon points="1305.9,826.95 1309.1,826.95 1312.05,830.9 1312.05,832.1 1309.1,836.05 1305.9,836.05 1302.95,832.1 1302.95,830.9" fill="#ff6000"/>
<polygon points="1205.9,828.95 1209.1,828.95 1212.05,832.9 1212.05,834.1 1209.1,838.05 1205.9,838.05 1202.95,834.1 1202.95,832.9" fill="#ffc000"/>
<polygon points="1155.9,829.95 1159.1,829.95 1162.05,833.9 1162.05,835.1 1159.1,839.05 1155.9,839.05 1152.95,835.1 1152.95,833.9" fill="#ffff00"/>
<polygon points="1255.9,829.95 1259.1,829.95 1262.05,833.9 1262.05,835.1 1259.1,839.05 1255.9,839.05 1252.95,835.1 1252.95,833.9" fill="#c0ff40"/>
<polygon points="1205.9,828.95 1209.1,828.95 1212.05,832.9 1212.05,834.1 1209.1,838.05 1205.9,838.05 1202.95,834.1 1202.95,832.9" fill="#80ff80"/>
<polygon points="1255.9,828.95 1259.1,828.95 1262.05,832.9 1262.05,834.1 1259.1,838.05 1255.9,838.05 1252.95,834.1 1252.95,832.9" fill="#60ffa0"/>
<polygon points="1054.9,830.95 1058.1,830.95 1061.05,834.9 1061.05,836.1 1058.1,840.05 1054.9,840.05 1051.95,836.1 1051.95,834.9" fill="#20ff60"/>
<polygon points="1255.9,828.95 1259.1,828.95 1262.05,832.9 1262.05,834.1 1259.1,838.05 1255.9,838.05 1252.95,834.1 1252.95,832.9" fill="#40ff40"/>
<polygon points="1255.9,829.95 1259.1,829.95 1262.05,833.9 1262.05,835.1 1259.1,839.05 1255.9,839.05 1252.95,835.1 1252.95,833.9" fill="#00ffff"/>
<polygon points="1004.9,826.95 1008.1,826.95 1011.05,830.9 1011.05,832.1 1008.1,836.05 1004.9,836.05 1001.95,832.1 1001.95,830.9" fill="#00a0ff"/>
<polygon points="1205.9,831.95 1209.1,831.95 1212.05,835.9 1212.05,837.1 1209.1,841.05 1205.9,841.05 1202.95,837.1 1202.95,835.9" fill="#0070ff"/>
<polygon points="854.9,827.95 858.1,827.95 861.05,831.9 861.05,833.1 858.1,837.05 854.9,837.05 851.95,833.1 851.95,831.9" fill="#0040ff"/>
<polygon points="1305.9,830.95 1309.1,830.95 1312.05,834.9 1312.05,836.1 1309.1,840.05 1305.9,840.05 1302.95,836.1 1302.95,834.9" fill="#0010ff"/>
<polygon points="1105.9,830.95 1109.1,830.95 1112.05,834.9 1112.05,836.1 1109.1,840.05 1105.9,840.05 1102.95,836.1 1102.95,834.9" fill="#0000ff"/>
<polygon points="1305.9,1043.95 1309.1,1043.95 1312.05,1047.9 1312.05,1049.1 1309.1,1053.05 1305.9,1053.05 1302.95,1049.1 1302.95,1047.9" fill="#0000e0"/>
<polygon points="954.9,743.95 958.1,743.95 961.05,747.9 961.05,749.1 958.1,753.05 954.9,753.05 951.95,749.1 951.95,747.9" fill="#0000aa"/>
<polygon points="954.9,873.95 958.1,873.95 961.05,877.9 961.05,879.1 958.1,883.05 954.9,883.05 951.95,879.1 951.95,877.9" fill="#000066"/>
</g>
<text x="150" y="1182" font-size="16.67" text-anchor="start" font-weight="normal" fill="#000000">Argo WHOI 04-Jan-2026</text>
</svg>
</body></html>
